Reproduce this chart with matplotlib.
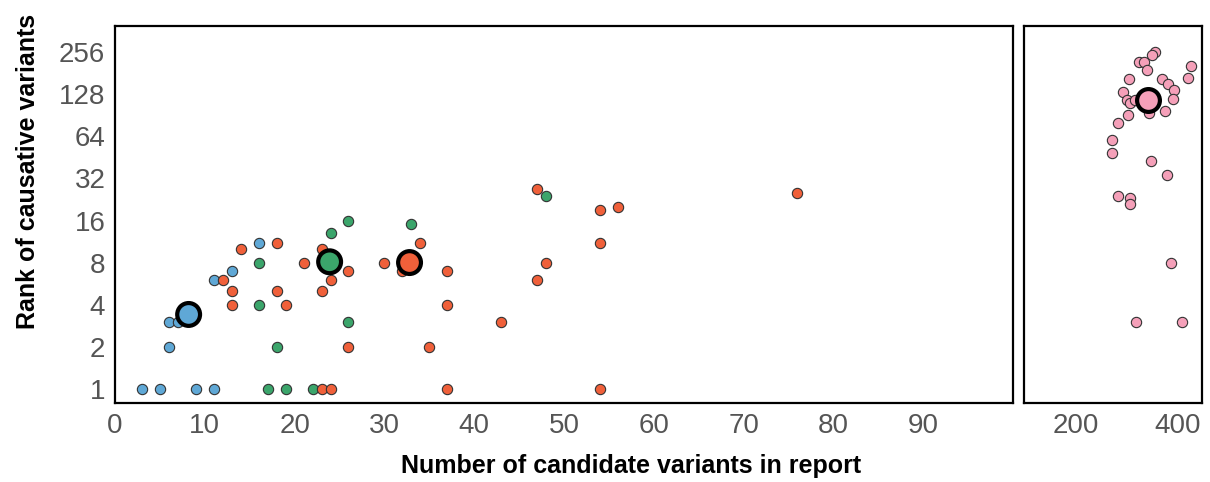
import matplotlib
matplotlib.use("Agg")
import matplotlib.pyplot as plt

plt.rcParams['font.family'] = ['Liberation Sans', 'DejaVu Sans']

# individual cases, grouped by colour
blue_x = [3, 5, 9, 11, 6, 6, 7, 11, 13, 16]
blue_y = [1, 1, 1, 1, 2, 3, 3, 6, 7, 11]

green_x = [17, 19, 22, 18, 26, 16, 16, 24, 26, 33, 48]
green_y = [1, 1, 1, 2, 3, 4, 8, 13, 16, 15, 24]

red_x = [23, 24, 37, 54, 26, 35, 43, 13, 19, 37, 13, 18, 23, 12, 24, 47,
         26, 32, 21, 30, 48, 14, 23, 18, 34, 54, 54, 56, 76, 47, 37]
red_y = [1, 1, 1, 1, 2, 2, 3, 4, 4, 4, 5, 5, 5, 6, 6, 6,
         7, 7, 8, 8, 8, 10, 10, 11, 11, 11, 19, 20, 25, 27, 7]

pink_x = [357, 351, 324, 335, 340, 428, 422, 305, 370, 382, 394, 294, 391,
          301, 307, 316, 345, 376, 303, 284, 271, 272, 349, 380, 283, 307,
          307, 388, 319, 409]
pink_y = [256, 244, 219, 219, 191, 204, 167, 165, 165, 153, 137, 134, 118,
          116, 111, 116, 94, 98, 91, 80, 60, 49, 43, 34, 24, 23,
          21, 8, 3, 3]

# summary points (large circles)
mean_x = [8.2, 23.9, 32.8]
mean_y = [3.4, 8.1, 8.0]
mean_colors = ['#5fa8d6', '#3ba56b', '#f0603a']
pink_mean_x = [343]
pink_mean_y = [116]

yticks = [1, 2, 4, 8, 16, 32, 64, 128, 256]
xticks_left = [0, 10, 20, 30, 40, 50, 60, 70, 80, 90]
xticks_right = [200, 400]

fig = plt.figure(figsize=(12.1, 4.82), dpi=100)
ax1 = fig.add_axes([115 / 1210, 1 - 403 / 482, 898 / 1210, 377 / 482])
ax2 = fig.add_axes([1024 / 1210, 1 - 403 / 482, 178 / 1210, 377 / 482])

small = dict(s=55, edgecolors='#333333', linewidths=0.8, zorder=3)
ax1.scatter(blue_x, blue_y, c='#5fa8d6', **small)
ax1.scatter(green_x, green_y, c='#3ba56b', **small)
ax1.scatter(red_x, red_y, c='#f0603a', **small)
ax1.scatter(mean_x, mean_y, c=mean_colors, s=270, edgecolors='black',
            linewidths=3, zorder=5)

ax2.scatter(pink_x, pink_y, c='#f5a0b9', **small)
ax2.scatter(pink_mean_x, pink_mean_y, c='#f5a0b9', s=270, edgecolors='black',
            linewidths=3, zorder=5)

for ax in (ax1, ax2):
    ax.set_yscale('log', base=2)
    ax.set_ylim(0.79, 395)
    ax.minorticks_off()
    ax.tick_params(length=0, labelsize=20, labelcolor='#555555', pad=7)
    for sp in ax.spines.values():
        sp.set_linewidth(1.6)
        sp.set_color('black')

ax1.set_xlim(0, 100)
ax1.set_xticks(xticks_left)
ax1.set_yticks(yticks)
ax1.set_yticklabels([str(v) for v in yticks])

ax2.set_xlim(98, 449)
ax2.set_xticks(xticks_right)
ax2.set_yticks(yticks)
ax2.set_yticklabels([])

fig.text(631 / 1210, 1 - 466 / 482, 'Number of candidate variants in report',
         ha='center', va='center', fontsize=18, fontweight='bold')
fig.text(28 / 1210, 1 - 171 / 482, 'Rank of causative variants',
         ha='center', va='center', rotation=90, fontsize=18, fontweight='bold')

fig.savefig('out.png', dpi=100)
